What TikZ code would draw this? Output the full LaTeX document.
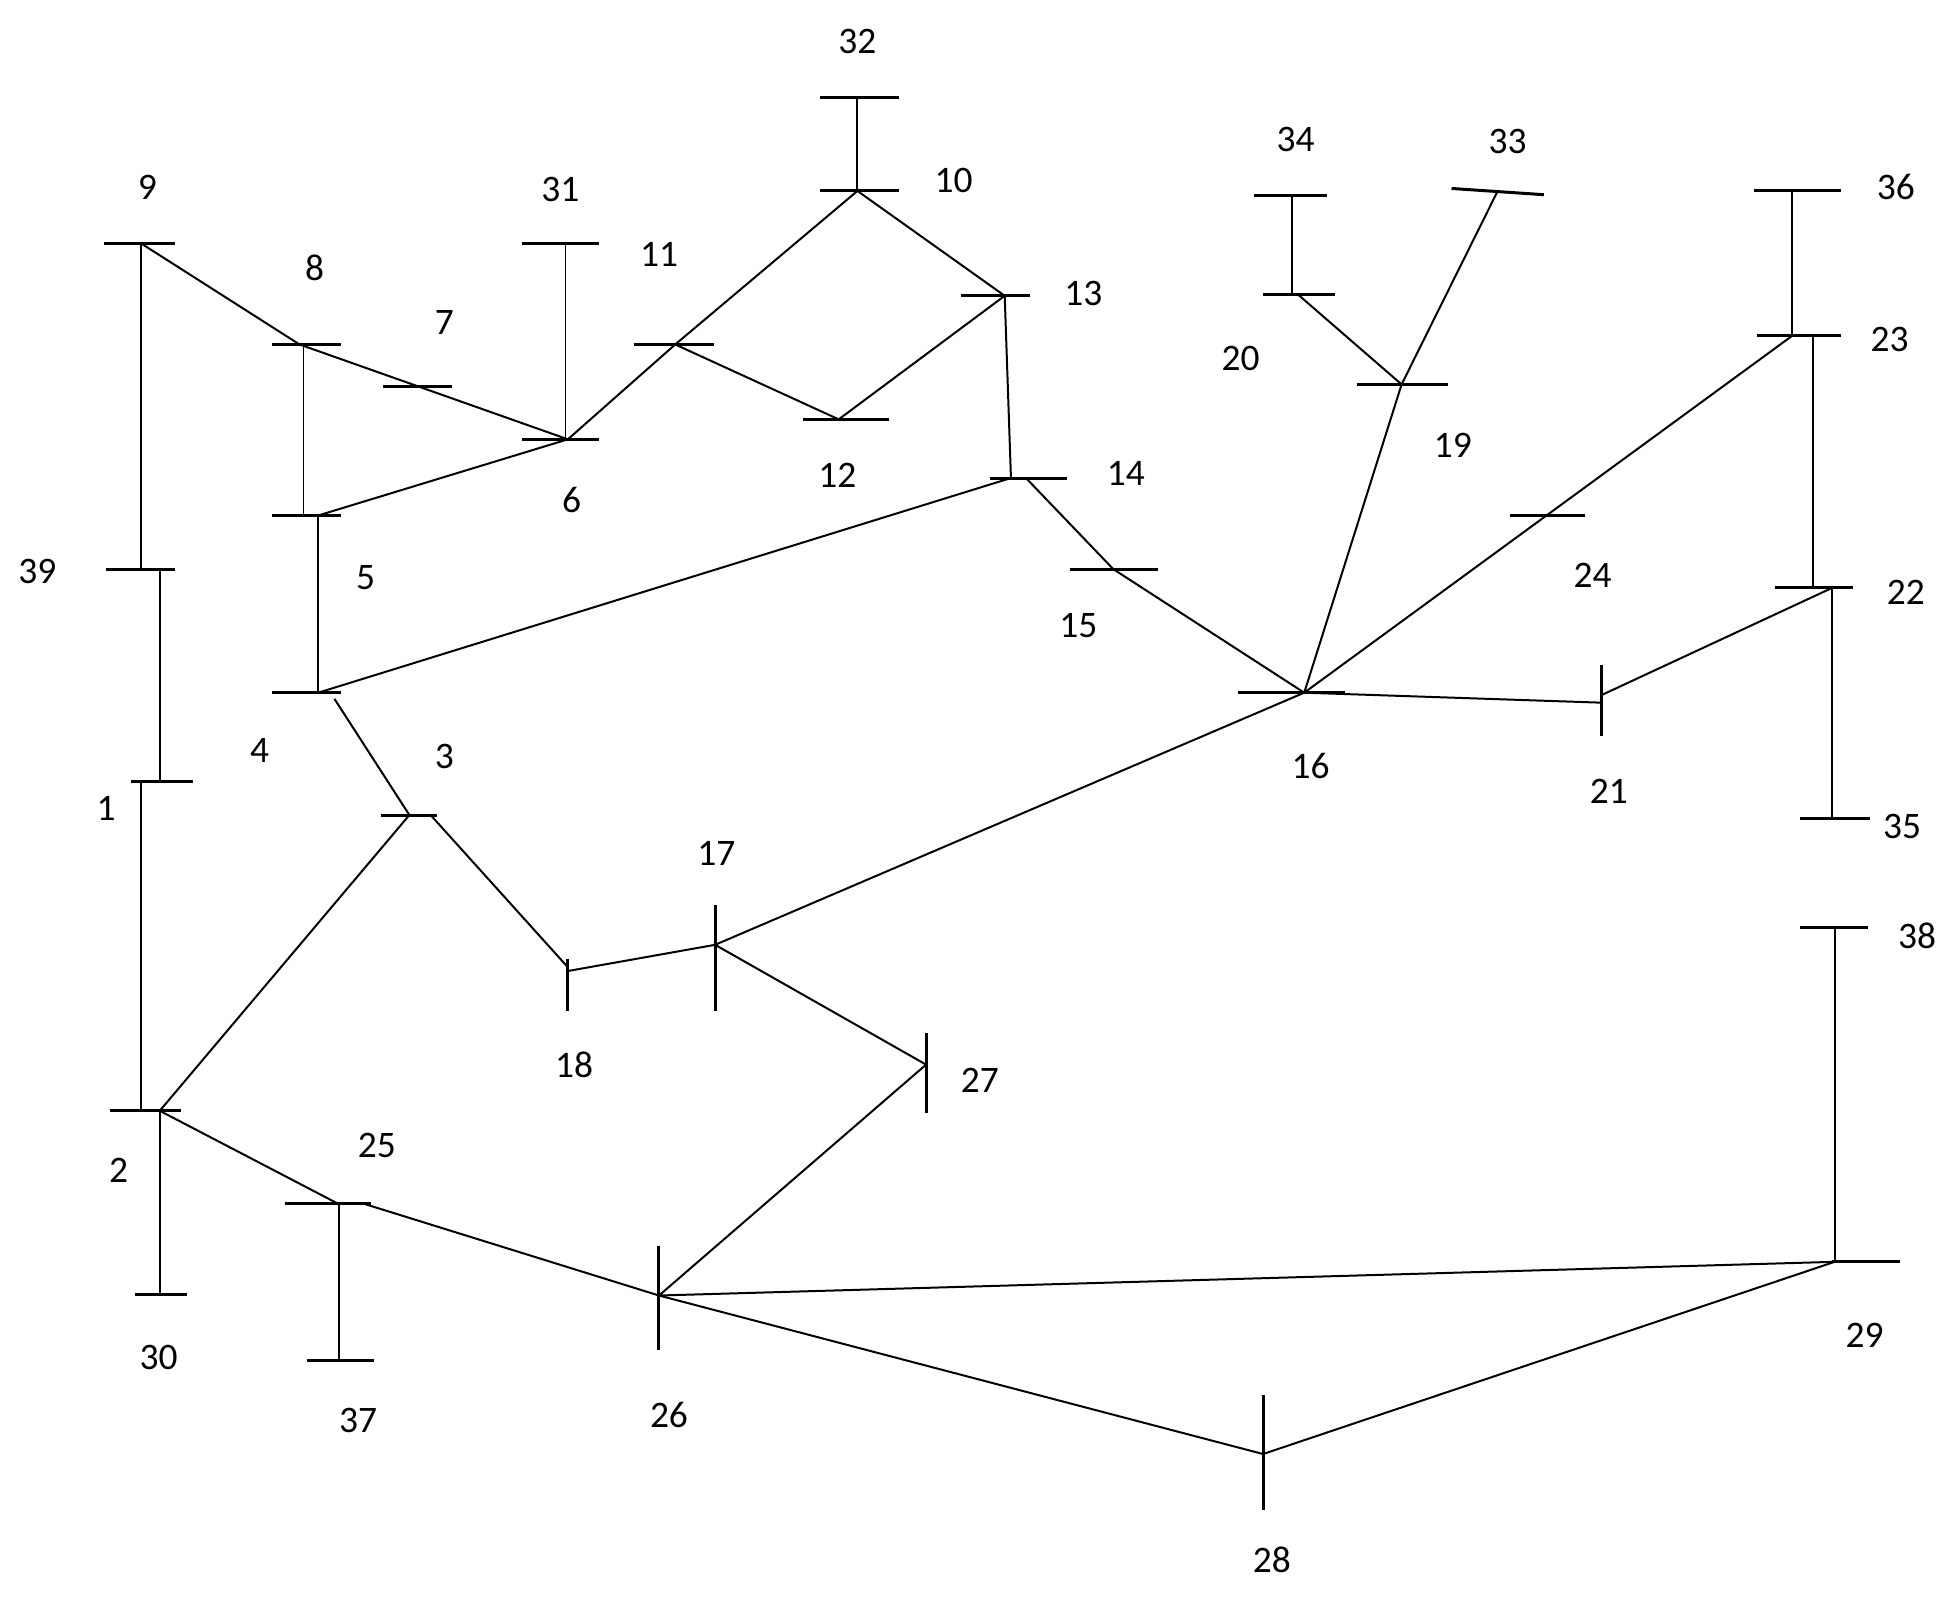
\documentclass[tikz,border=0pt]{standalone}
\usepackage{fontspec}
\setmainfont{Carlito}
\begin{document}
\begin{tikzpicture}[x=1pt,y=-1pt,
  bus/.style={line width=2.4pt},
  ln/.style={line width=1.6pt},
  lbl/.style={font=\fontsize{30}{34}\selectfont,inner sep=0pt}]
\useasboundingbox (0,0) rectangle (1560,1279);
% horizontal buses: name, x1, x2, y
\foreach \n/\a/\b/\y in {9/83/140/195,39/85/140/456,1/105/155/626,2/88/145/890,30/108/150/1037,
 8/218/273/276,7/307/362/310,5/218/273/413,4/218/273/555,3/305/350/653,6/418/480/352,
 31/418/480/195,11/508/572/276,12/643/712/336,10/657/720/153,32/657/720/78,13/770/825/237,
 14/793/855/383,15/857/928/456,16/992/1078/555,34/1005/1063/157,20/1012/1070/236,
 19/1087/1160/308,36/1405/1475/153,23/1408/1475/269,24/1210/1270/413,22/1422/1485/471,
 35/1442/1498/656,38/1442/1497/743,29/1468/1522/1011,25/228/297/964,37/246/300/1090}
 {\draw[bus] (\a,\y) -- (\b,\y);}
\draw[bus] (1163,151) -- (1237,156);
% vertical buses: x, y1, y2
\foreach \n/\x/\a/\b in {21/1283/533/590,17/573/725/810,18/455/768/810,27/742/828/892,26/528/998/1082,28/1012/1118/1210}
 {\draw[bus] (\x,\a) -- (\x,\b);}
% coordinates
\coordinate (b9) at (113,195); \coordinate (b39) at (113,456); \coordinate (b39b) at (128,456);
\coordinate (b1) at (128,626); \coordinate (b1b) at (113,626); \coordinate (b2) at (113,890);
\coordinate (b2b) at (128,890); \coordinate (b30) at (128,1037);
\coordinate (b8) at (240,276); \coordinate (b8v) at (243,276); \coordinate (b5v) at (243,413);
\coordinate (b6) at (455,352); \coordinate (b5) at (255,413); \coordinate (b4) at (255,555);
\coordinate (b31) at (453,195); \coordinate (b6v) at (453,352); \coordinate (b11) at (541,276);
\coordinate (b10) at (687,153); \coordinate (b32) at (687,78); \coordinate (b13) at (805,237);
\coordinate (b12) at (672,336); \coordinate (b14) at (810,383); \coordinate (b14b) at (822,383);
\coordinate (b15) at (892,456); \coordinate (b16) at (1045,555); \coordinate (b4b) at (268,560);
\coordinate (b3) at (328,653); \coordinate (b3b) at (345,653); \coordinate (b18) at (455,775);
\coordinate (b18b) at (455,778); \coordinate (b17) at (573,757); \coordinate (b27) at (742,853);
\coordinate (b26) at (528,1038); \coordinate (b25) at (270,964); \coordinate (b25v) at (272,964);
\coordinate (b37) at (272,1090); \coordinate (b25b) at (290,964); \coordinate (b29) at (1470,1011);
\coordinate (b28) at (1012,1165); \coordinate (b38) at (1470,743); \coordinate (b21) at (1283,563);
\coordinate (b21b) at (1283,557); \coordinate (b22) at (1468,471); \coordinate (b35) at (1468,656);
\coordinate (b22b) at (1453,471); \coordinate (b23b) at (1453,269); \coordinate (b23) at (1436,269);
\coordinate (b36) at (1436,153); \coordinate (b19) at (1123,308); \coordinate (b33) at (1200,153);
\coordinate (b20) at (1040,236); \coordinate (b20v) at (1035,236); \coordinate (b34) at (1035,157);
% lines
\draw[ln] (b9)--(b39); \draw[ln] (b39b)--(b1); \draw[ln] (b1b)--(b2); \draw[ln] (b2b)--(b30);
\draw[ln] (b9)--(b8); \draw[line width=1pt] (b8v)--(b5v); \draw[ln] (b8)--(b6);
\draw[ln] (b5)--(b6); \draw[ln] (b5)--(b4); \draw[line width=1pt] (b31)--(b6v);
\draw[ln] (b6)--(b11); \draw[ln] (b11)--(b10); \draw[ln] (b32)--(b10); \draw[ln] (b10)--(b13);
\draw[ln] (b11)--(b12); \draw[ln] (b12)--(b13); \draw[ln] (b13)--(b14); \draw[ln] (b14)--(b4);
\draw[ln] (b14b)--(b15); \draw[ln] (b15)--(b16); \draw[ln] (b4b)--(b3); \draw[ln] (b3)--(b2b);
\draw[ln] (b3b)--(b18); \draw[ln] (b18b)--(b17); \draw[ln] (b17)--(b16); \draw[ln] (b17)--(b27);
\draw[ln] (b27)--(b26); \draw[ln] (b2b)--(b25); \draw[ln] (b25v)--(b37); \draw[ln] (b25b)--(b26);
\draw[ln] (b26)--(b29); \draw[ln] (b26)--(b28); \draw[ln] (b28)--(b29); \draw[ln] (b38)--(b29);
\draw[ln] (b16)--(b21); \draw[ln] (b21b)--(b22); \draw[ln] (b22)--(b35); \draw[ln] (b22b)--(b23b);
\draw[ln] (b23)--(b36); \draw[ln] (b23)--(b16); \draw[ln] (b16)--(b19); \draw[ln] (b19)--(b33);
\draw[ln] (b19)--(b20); \draw[ln] (b20v)--(b34);
% labels
\foreach \t/\x/\y in {9/118/150,39/30/458,1/85/648,2/95/938,30/127/1088,8/252/215,7/356/258,
 5/293/463,4/208/601,3/356/606,6/458/401,31/449/152,11/528/204,12/671/381,10/764/145,32/687/33,
 13/868/235,14/902/379,15/864/501,16/1050/614,34/1038/112,20/994/287,33/1208/113,19/1164/357,
 36/1519/150,23/1514/272,24/1276/461,22/1527/475,21/1289/634,35/1524/662,38/1536/750,29/1494/1070,
 17/574/684,18/460/853,27/785/866,25/302/918,37/287/1138,26/536/1134,28/1019/1250}
 {\node[lbl] (l\t) at (\x,\y) {\t};}
\end{tikzpicture}
\end{document}
